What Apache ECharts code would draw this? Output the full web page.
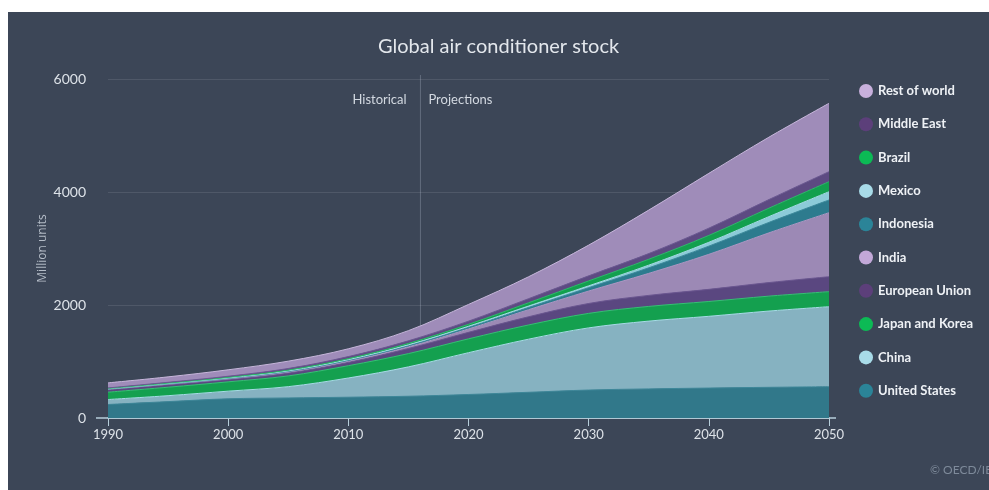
<!DOCTYPE html>
<html>
<head>
<meta charset="utf-8">
<script src="https://cdn.jsdelivr.net/npm/echarts@6/dist/echarts.min.js"></script>
<style>
  html, body { margin: 0; padding: 0; background: #ffffff; width: 989px; height: 490px; overflow: hidden; }
  #chart { position: absolute; left: 8px; top: 12px; width: 981px; height: 478px; background: #3c4657; }
</style>
</head>
<body>
<div id="chart"></div>
<script>
// Global air conditioner stock, million units (stacked, bottom to top)
const years = ['1990', '1995', '2000', '2005', '2010', '2015', '2020', '2025', '2030', '2035', '2040', '2045', '2050'];

const unitedStates = [239, 290, 340, 355, 368, 385, 416, 455, 495, 515, 530, 543, 554];
const china        = [88, 105, 135, 200, 340, 520, 740, 940, 1100, 1200, 1270, 1350, 1416];
const japanKorea   = [130, 150, 165, 190, 218, 235, 245, 252, 257, 260, 262, 264, 266];
const europeanUnion= [47, 45, 41, 50, 58, 90, 115, 145, 175, 195, 215, 240, 265];
const india        = [5, 8, 12, 18, 22, 30, 60, 125, 220, 390, 620, 880, 1133];
const indonesia    = [3, 5, 7, 10, 14, 20, 28, 40, 60, 98, 145, 185, 225];
const mexico       = [4, 6, 8, 11, 13, 16, 20, 25, 32, 47, 68, 102, 146];
const brazil       = [6, 8, 11, 14, 18, 25, 35, 58, 88, 105, 122, 150, 178];
const middleEast   = [10, 15, 20, 28, 36, 45, 55, 72, 89, 100, 128, 152, 177];
const restOfWorld  = [90, 96, 114, 130, 138, 180, 296, 388, 544, 770, 970, 1104, 1210];

const yTicks = [0, 2000, 4000, 6000];
const splitYear = 2016;

// name, values, legend dot colour, area fill, edge line
const layers = [
  ['United States',   unitedStates,  '#2b8498', '#31788a', '#3d8799'],
  ['China',           china,         '#a8dbe8', '#86b2c1', '#a6dde6'],
  ['Japan and Korea', japanKorea,    '#0cba55', '#14a04f', '#34c273'],
  ['European Union',  europeanUnion, '#5c3f7a', '#5a4780', '#6a5590'],
  ['India',           india,         '#c2a8d8', '#9c89b5', '#ab98c4'],
  ['Indonesia',       indonesia,     '#2b8498', '#2d7b8e', '#3a8a9c'],
  ['Mexico',          mexico,        '#a8dbe8', '#8ccbd8', '#a4dde6'],
  ['Brazil',          brazil,        '#0cba55', '#13a04e', '#2dbb6b'],
  ['Middle East',     middleEast,    '#5c3f7a', '#5d4a82', '#6b5892'],
  ['Rest of world',   restOfWorld,   '#c8b0dc', '#9f8cb9', '#c6b6da']
];

const FONT = 'Lato, "Open Sans", sans-serif';
const chart = echarts.init(document.getElementById('chart'));

const series = layers.map(function (l) {
  return {
    name: l[0],
    type: 'line',
    stack: 'total',
    smooth: 0.35,
    symbol: 'none',
    data: l[1],
    itemStyle: { color: l[2] },
    lineStyle: { color: l[4], width: 1 },
    areaStyle: { color: l[3], opacity: 1 },
    emphasis: { disabled: true }
  };
});

chart.setOption({
  backgroundColor: '#3c4657',
  animation: false,
  title: {
    text: 'Global air conditioner stock',
    left: 'center',
    top: 20,
    textStyle: { color: '#e3e7ec', fontSize: 20, fontWeight: 'normal', fontFamily: FONT }
  },
  legend: {
    orient: 'vertical',
    left: 846,
    top: 67,
    itemWidth: 14,
    itemHeight: 14,
    itemGap: 19.3,
    icon: 'circle',
    data: layers.map(function (l) { return l[0]; }).reverse(),
    textStyle: { color: '#eef1f5', fontSize: 13, fontWeight: 'bold', fontFamily: FONT }
  },
  grid: { left: 100, right: 160, top: 67, bottom: 72 },
  xAxis: [{
    type: 'category',
    data: years,
    boundaryGap: false,
    axisLine: { show: true, lineStyle: { color: '#b7cfdb', width: 1.5 } },
    axisTick: { show: true, length: 8, interval: 1, lineStyle: { color: '#b7cfdb' } },
    axisLabel: { color: '#dde2e8', fontSize: 13, margin: 10, interval: 1, fontFamily: FONT },
    splitLine: { show: false }
  }, {
    // numeric year scale used to place the historical / projection divider
    type: 'value',
    min: 1990,
    max: 2050,
    show: false
  }],
  yAxis: {
    type: 'value',
    min: 0,
    max: 6000,
    interval: 2000,
    name: 'Million units',
    nameLocation: 'middle',
    nameGap: 59,
    nameMoveOverlap: false,
    nameTextStyle: { color: '#b4bcc7', fontSize: 12, fontFamily: '"Open Sans", sans-serif' },
    axisLine: { show: false },
    axisTick: { show: false },
    axisLabel: {
      color: '#dde2e8', fontSize: 14, margin: 22, fontFamily: FONT,
      formatter: function (v) { return yTicks.indexOf(v) >= 0 ? String(v) : ''; }
    },
    splitLine: { show: true, lineStyle: { color: 'rgba(255,255,255,0.10)', width: 1 } }
  },
  series: series
});

// Divider between historical data and projections, with its two labels
const xDiv = chart.convertToPixel({ xAxisIndex: 1 }, splitYear);
const xStart = chart.convertToPixel({ xAxisIndex: 1 }, 1990);
const xEnd = chart.convertToPixel({ xAxisIndex: 1 }, 2050);
const yTop = chart.convertToPixel({ yAxisIndex: 0 }, 6000);
const yBot = chart.convertToPixel({ yAxisIndex: 0 }, 0);
chart.setOption({
  graphic: [
    {
      type: 'line', silent: true,
      shape: { x1: xDiv, y1: yTop - 4, x2: xDiv, y2: yBot },
      style: { stroke: 'rgba(200,210,225,0.28)', lineWidth: 1 }
    },
    {
      // axis baseline runs a little past both ends of the year range
      type: 'line', silent: true,
      shape: { x1: xStart - 12, y1: yBot, x2: xEnd + 7, y2: yBot },
      style: { stroke: '#b7cfdb', lineWidth: 1.5 }
    },
    {
      type: 'text', left: xDiv - 8 - 60, top: yTop + 14,
      style: { text: 'Historical', width: 60, align: 'right', fill: '#d3d9e1', fontSize: 13, fontFamily: FONT }
    },
    {
      type: 'text', left: xDiv + 8, top: yTop + 14,
      style: { text: 'Projections', fill: '#d3d9e1', fontSize: 13, fontFamily: FONT }
    },
    {
      type: 'text', left: 922, top: 452,
      style: { text: '\u00a9 OECD/IEA 2018', fill: '#7e8a9a', fontSize: 12, fontFamily: FONT }
    }
  ]
});
</script>
</body>
</html>
